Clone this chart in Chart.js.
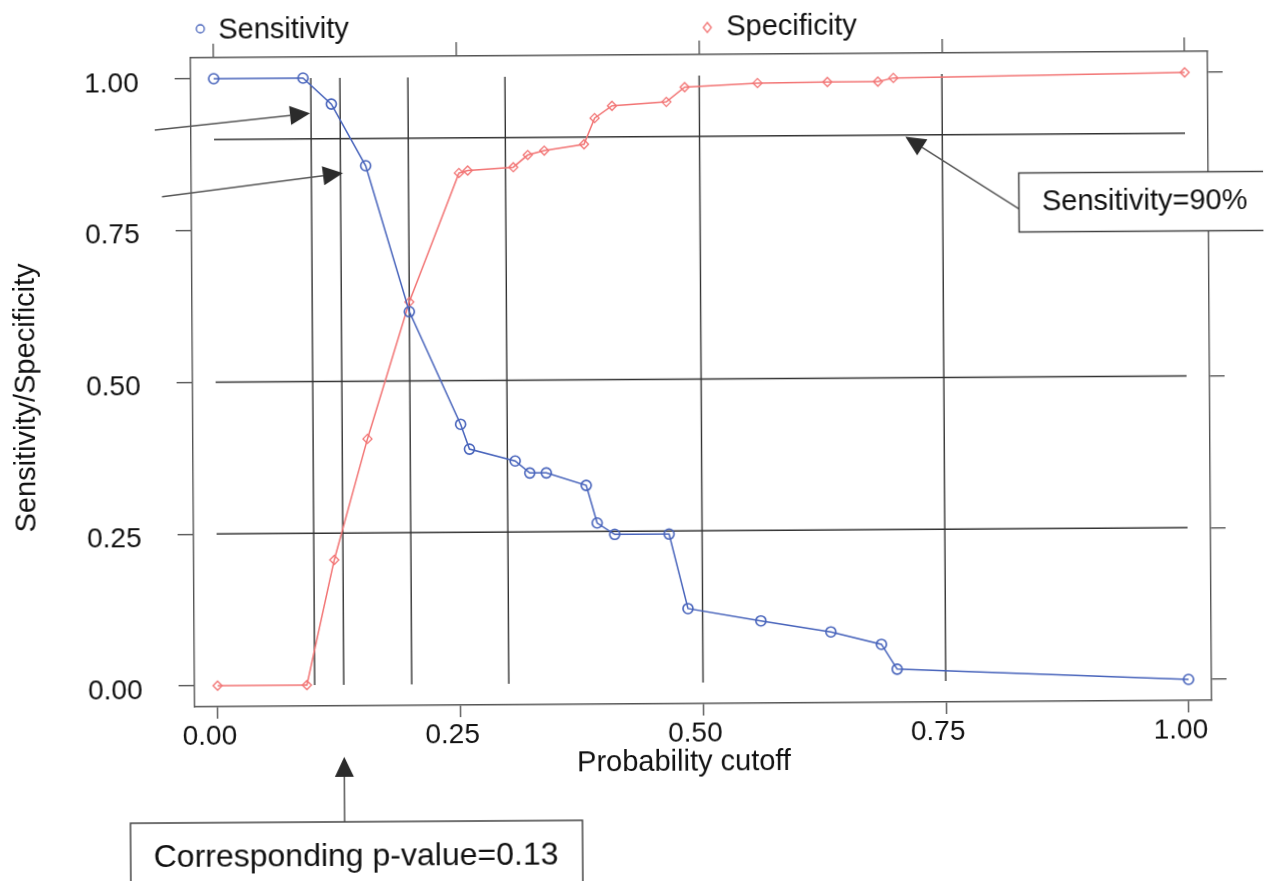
<!DOCTYPE html>
<html>
<head>
<meta charset="utf-8">
<title>Sensitivity / Specificity by probability cutoff</title>
<script src="https://cdn.jsdelivr.net/npm/chart.js@4.4.1/dist/chart.umd.min.js"></script>
<style>
  html, body { margin: 0; padding: 0; background: #fff; overflow: hidden; }
  /* the original is a slightly tilted scan */
  #wrap { width: 1265px; height: 881px; transform: rotate(-0.37deg); transform-origin: 632.5px 440.5px; }
  canvas { display: block; }
</style>
</head>
<body>
<div id="wrap"><canvas id="chart" width="1265" height="881"></canvas></div>
<script>
const FONT = "'Liberation Sans', Arial, Helvetica, sans-serif";
const BLUE = '#4763bb';
const RED = '#f27474';
const INK = '#333333';
const TEXT = '#111111';

// probability cutoffs, shared by both curves
const cutoffs = [0, 0.092, 0.121, 0.156, 0.200, 0.252, 0.261, 0.308, 0.323, 0.340,
                 0.381, 0.392, 0.410, 0.466, 0.485, 0.560, 0.632, 0.684, 0.700, 1.000];
const sensitivity = [1.000, 1.000, 0.957, 0.855, 0.614, 0.428, 0.387, 0.367, 0.347, 0.347,
                     0.326, 0.264, 0.245, 0.245, 0.122, 0.101, 0.082, 0.061, 0.020, 0.000];
const specificity = [0.000, 0.000, 0.206, 0.405, 0.630, 0.842, 0.846, 0.851, 0.871, 0.878,
                     0.888, 0.931, 0.951, 0.957, 0.981, 0.987, 0.988, 0.988, 0.994, 1.000];

// reference lines drawn over the plot
const cutoffLines = [0.10, 0.13, 0.20, 0.30, 0.50, 0.75];
const levelLines = [0.25, 0.50, 0.90];

// axes
const xTicks = [0, 0.25, 0.50, 0.75, 1.00];
const yTicks = [0, 0.25, 0.50, 0.75, 1.00];
const xRange = [-0.0237, 1.0237];
const yRange = [-0.0346, 1.0346];

// annotation arrows, in data units: [cutoff, value]
const arrows = [
    { from: [-0.061, 0.916], to: [0.099, 0.942] },
    { from: [-0.054, 0.806], to: [0.1325, 0.843] },
    { from: [0.8285, 0.777], to: [0.712, 0.897] },
    { from: [0.13, -0.2273], to: [0.13, -0.1186] }
];
const notes = [
    { text: 'Sensitivity=90%', box: [1020.5, 175.5, 320, 59], at: [1043.5, 213], size: 29 },
    { text: 'Corresponding p-value=0.13', box: [128, 820, 452, 100], at: [151, 864], size: 32 }
];

const pts = ys => cutoffs.map((c, i) => ({ x: c, y: ys[i] }));

const refSets = [
    ...cutoffLines.map(c => ({ data: [{ x: c, y: 0 }, { x: c, y: 1 }] })),
    ...levelLines.map(v => ({ data: [{ x: 0, y: v }, { x: 1, y: v }] }))
].map(d => ({ ...d, borderColor: INK, borderWidth: 1.4, pointRadius: 0, order: 5 }));

function drawArrow(ctx, x0, y0, x1, y1) {
    const a = Math.atan2(y1 - y0, x1 - x0);
    const len = 20, half = 9.5;
    const bx = x1 - len * Math.cos(a), by = y1 - len * Math.sin(a);
    ctx.beginPath();
    ctx.moveTo(x0, y0);
    ctx.lineTo(bx, by);
    ctx.stroke();
    ctx.beginPath();
    ctx.moveTo(x1, y1);
    ctx.lineTo(bx + half * Math.sin(a), by - half * Math.cos(a));
    ctx.lineTo(bx - half * Math.sin(a), by + half * Math.cos(a));
    ctx.closePath();
    ctx.fill();
}

// legend, axis titles, arrows and text boxes
const decorations = {
    id: 'decorations',
    afterDraw(chart) {
        const { ctx, scales: { x, y } } = chart;
        ctx.save();

        // legend
        ctx.lineWidth = 1.3;
        ctx.strokeStyle = BLUE;
        ctx.beginPath();
        ctx.arc(203, 26, 4, 0, Math.PI * 2);
        ctx.stroke();
        ctx.strokeStyle = RED;
        ctx.beginPath();
        ctx.moveTo(710, 23); ctx.lineTo(714, 28); ctx.lineTo(710, 33); ctx.lineTo(706, 28);
        ctx.closePath();
        ctx.stroke();
        ctx.fillStyle = TEXT;
        ctx.font = `29px ${FONT}`;
        ctx.textBaseline = 'middle';
        ctx.textAlign = 'left';
        ctx.fillText('Sensitivity', 221, 28);
        ctx.fillText('Specificity', 729, 28);

        // axis titles
        ctx.textAlign = 'center';
        ctx.fillText('Probability cutoff', 682, 763);
        ctx.save();
        ctx.translate(27, 394);
        ctx.rotate(-Math.PI / 2);
        ctx.fillText('Sensitivity/Specificity', 0, 0);
        ctx.restore();

        // arrows
        ctx.strokeStyle = '#555';
        ctx.fillStyle = '#2b2b2b';
        ctx.lineWidth = 1.5;
        arrows.forEach(a => {
            drawArrow(ctx,
                x.getPixelForValue(a.from[0]), y.getPixelForValue(a.from[1]),
                x.getPixelForValue(a.to[0]), y.getPixelForValue(a.to[1]));
        });

        // boxes
        notes.forEach(n => {
            const [bx, by, bw, bh] = n.box;
            ctx.fillStyle = '#fff';
            ctx.fillRect(bx, by, bw, bh);
            ctx.strokeStyle = '#444';
            ctx.lineWidth = 1.5;
            ctx.strokeRect(bx, by, bw, bh);
            ctx.fillStyle = TEXT;
            ctx.font = `${n.size}px ${FONT}`;
            ctx.textAlign = 'left';
            ctx.textBaseline = 'alphabetic';
            ctx.fillText(n.text, n.at[0], n.at[1]);
        });

        ctx.restore();
    }
};

const fixTicks = values => scale => { scale.ticks = values.map(v => ({ value: v })); };
const frame = { display: true, color: '#555', width: 1.4 };
const tickGrid = len => ({ drawOnChartArea: false, drawTicks: true, tickLength: len, color: '#555', lineWidth: 1.4 });
const tickFont = { family: FONT, size: 28 };

new Chart(document.getElementById('chart'), {
    type: 'line',
    data: {
        datasets: [
            {
                label: 'Sensitivity',
                data: pts(sensitivity),
                borderColor: BLUE,
                borderWidth: 1.5,
                pointStyle: 'circle',
                pointRadius: 5,
                pointBorderColor: BLUE,
                pointBackgroundColor: 'rgba(0,0,0,0)',
                pointBorderWidth: 1.6,
                order: 0
            },
            {
                label: 'Specificity',
                data: pts(specificity),
                borderColor: RED,
                borderWidth: 1.5,
                pointStyle: 'rectRot',
                pointRadius: 4.5,
                pointBorderColor: RED,
                pointBackgroundColor: 'rgba(0,0,0,0)',
                pointBorderWidth: 1.3,
                order: 1
            },
            ...refSets
        ]
    },
    options: {
        responsive: false,
        animation: false,
        layout: { padding: 0 },
        plugins: { legend: { display: false }, tooltip: { enabled: false } },
        scales: {
            x: {
                type: 'linear', position: 'bottom', min: xRange[0], max: xRange[1],
                afterBuildTicks: fixTicks(xTicks),
                afterFit: s => { s.height = 177; },
                grid: tickGrid(12), border: frame,
                ticks: { padding: 1, labelOffset: -8, font: tickFont, color: TEXT,
                         autoSkip: false, maxRotation: 0, callback: v => v.toFixed(2) }
            },
            xTop: {
                type: 'linear', position: 'top', min: xRange[0], max: xRange[1],
                afterBuildTicks: fixTicks(xTicks),
                afterFit: s => { s.height = 55; },
                grid: tickGrid(14), border: frame,
                ticks: { display: false }
            },
            y: {
                type: 'linear', position: 'left', min: yRange[0], max: yRange[1],
                afterBuildTicks: fixTicks(yTicks),
                afterFit: s => { s.width = 193; },
                grid: tickGrid(16), border: frame,
                ticks: { padding: 36, labelOffset: 5, font: tickFont, color: TEXT,
                         autoSkip: false, callback: v => v.toFixed(2) }
            },
            yRight: {
                type: 'linear', position: 'right', min: yRange[0], max: yRange[1],
                afterBuildTicks: fixTicks(yTicks),
                afterFit: s => { s.width = 55; },
                grid: tickGrid(15), border: frame,
                ticks: { display: false }
            }
        }
    },
    plugins: [decorations]
});
</script>
</body>
</html>
